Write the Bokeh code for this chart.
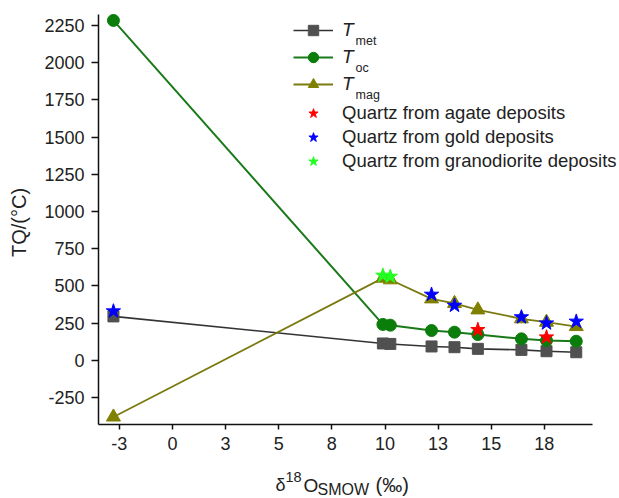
import math
from bokeh.plotting import figure
from bokeh.models import Range1d, FixedTicker, Legend, LegendItem, Label
from bokeh.embed import file_html
from bokeh.resources import INLINE

# ---------------- data ----------------
d18O = [-2.78, 9.9, 10.25, 12.19, 13.27, 14.37, 16.42, 17.6, 19.0]
t_met = [295, 113, 110, 93, 88, 77, 70, 61, 54]
t_oc = [2284, 241, 236, 200, 189, 173, 144, 133, 128]
t_mag = [-381, 552, 541, 413, 382, 339, 279, 256, 227]

agate_x = [14.37, 17.6]
agate_y = [205, 155]
gold_x = [-2.78, 12.19, 13.27, 16.42, 17.6, 19.0]
gold_y = [330, 442, 368, 290, 249, 261]
grano_x = [9.9, 10.25]
grano_y = [570, 563]

x_ticks = [-2.5, 0, 2.5, 5, 7.5, 10, 12.5, 15, 17.5]
x_tick_labels = ["-3", "0", "3", "5", "8", "10", "13", "15", "18"]
y_ticks = [-250, 0, 250, 500, 750, 1000, 1250, 1500, 1750, 2000, 2250]
y_tick_labels = ["-250", "0", "250", "500", "750", "1000", "1250", "1500",
                 "1750", "2000", "2250"]

# axis extents (data units) and full canvas ranges
X0, X1 = -3.48, 19.76
Y0, Y1 = -431, 2327
XR = (-8.094, 21.035)
YR = (-928.8, 2418.0)

FONT = "Liberation Sans"
TXT = "#222222"

p = figure(width=619, height=498, output_backend="svg", toolbar_location=None,
           x_range=Range1d(*XR), y_range=Range1d(*YR),
           min_border_left=0, min_border_right=0, min_border_top=0,
           min_border_bottom=0)
p.title.visible = False
p.xgrid.visible = False
p.ygrid.visible = False
p.outline_line_color = None
p.background_fill_color = "white"

for ax in (p.xaxis, p.yaxis):
    ax.axis_line_width = 1.5
    ax.axis_line_color = "#111111"
    ax.major_tick_line_width = 1.5
    ax.major_tick_line_color = "#111111"
    ax.major_tick_in = 0
    ax.minor_tick_line_color = None
    ax.major_label_text_font = FONT
    ax.major_label_text_font_size = "18px"
    ax.major_label_text_color = TXT

p.xaxis.ticker = FixedTicker(ticks=x_ticks)
p.xaxis.major_label_overrides = dict(zip(x_ticks, x_tick_labels))
p.xaxis.major_tick_out = 5
p.xaxis.major_label_standoff = 8
p.xaxis.fixed_location = Y0
p.xaxis.bounds = (X0, X1)

p.yaxis.ticker = FixedTicker(ticks=y_ticks)
p.yaxis.major_label_overrides = dict(zip(y_ticks, y_tick_labels))
p.yaxis.major_tick_out = 7
p.yaxis.major_label_standoff = 7
p.yaxis.fixed_location = X0
p.yaxis.bounds = (Y0, Y1)

# ---------------- series ----------------
c_met, c_met_l = "#505050", "#333333"
c_oc, c_oc_l = "#0a7d0a", "#1a7a1a"
c_mag, c_mag_l = "#808000", "#7a7a10"

l_met = p.line(d18O, t_met, line_color=c_met_l, line_width=1.6)
l_oc = p.line(d18O, t_oc, line_color=c_oc_l, line_width=2)
l_mag = p.line(d18O, t_mag, line_color=c_mag_l, line_width=1.8)

s_met = p.scatter(d18O, t_met, marker="square", size=11, fill_color=c_met, line_color=c_met)
s_oc = p.scatter(d18O, t_oc, marker="circle", size=12, fill_color=c_oc, line_color=c_oc)
s_mag = p.scatter(d18O, t_mag, marker="triangle", size=14, fill_color=c_mag, line_color=c_mag)

s_agate = p.scatter(agate_x, agate_y, marker="star", size=15, fill_color="#ff0000", line_color="#ff0000")
s_gold = p.scatter(gold_x, gold_y, marker="star", size=15, fill_color="#0000ff", line_color="#0000ff")
s_grano = p.scatter(grano_x, grano_y, marker="star", size=15, fill_color="#22ff22", line_color="#22ff22")

# ---------------- legends ----------------
common = dict(glyph_width=40, label_standoff=9, padding=0, margin=0,
              border_line_alpha=0, background_fill_alpha=0,
              label_text_font=FONT, label_text_color=TXT)

leg1 = Legend(items=[LegendItem(label="T", renderers=[l_met, s_met]),
                     LegendItem(label="T", renderers=[l_oc, s_oc]),
                     LegendItem(label="T", renderers=[l_mag, s_mag])],
              location=(293, 401), glyph_height=26, label_height=26, spacing=1,
              label_text_font_size="19px", label_text_font_style="italic", **common)
leg2 = Legend(items=[LegendItem(label="Quartz from agate deposits", renderers=[s_agate]),
                     LegendItem(label="Quartz from gold deposits", renderers=[s_gold]),
                     LegendItem(label="Quartz from granodiorite deposits", renderers=[s_grano])],
              location=(293, 325), glyph_height=24, label_height=24, spacing=0,
              label_text_font_size="18.5px", **common)
p.add_layout(leg1)
p.add_layout(leg2)


def add_text(text, xo, yo, size, angle=0.0, align="left"):
    p.add_layout(Label(x=X0, y=Y0, x_units="data", y_units="data",
                       x_offset=xo, y_offset=yo, text=text, text_font=FONT,
                       text_font_size=size, text_color=TXT, angle=angle,
                       text_baseline="alphabetic", text_align=align))


for s, yo in zip(["met", "oc", "mag"], [383, 356, 329]):
    add_text(s, 257, yo, "12.5px")

# ---------------- axis titles ----------------
add_text("TQ/(°C)", -80, 202, "20px", angle=math.pi / 2, align="center")

for txt, xo, yo, fs in [("δ", 177, -61, "18px"), ("18", 187, -53, "14.5px"),
                        ("O", 205, -61, "19px"), ("SMOW", 219, -65, "16px"),
                        ("(‰)", 277, -61, "20px")]:
    add_text(txt, xo, yo, fs)

open("out.html", "w").write(file_html(p, INLINE))
